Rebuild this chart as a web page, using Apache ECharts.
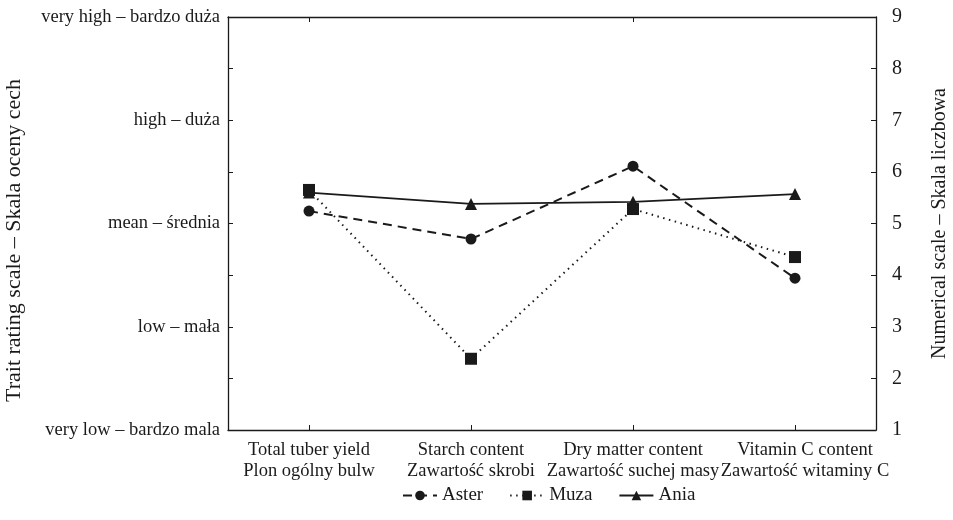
<!DOCTYPE html>
<html><head><meta charset="utf-8">
<script src="https://cdn.jsdelivr.net/npm/echarts@6/dist/echarts.min.js"></script>
<style>html,body{margin:0;padding:0;background:#fff}#c{width:953px;height:520px}</style>
</head><body><div id="c"></div>
<script>
var categories = ['Total tuber yield\nPlon ogólny bulw', 'Starch content\nZawartość skrobi', 'Dry matter content\nZawartość suchej masy', 'Vitamin C content\nZawartość witaminy C'];
var aster = [5.24, 4.70, 6.11, 3.94];
var muza = [5.65, 2.38, 5.28, 4.35];
var ania = [5.60, 5.38, 5.42, 5.57];
var ratingLabels = {1: 'very low – bardzo mala', 3: 'low – mała', 5: 'mean – średnia', 7: 'high – duża', 9: 'very high – bardzo duża'};
var leftName = 'Trait rating scale – Skala oceny cech';
var rightName = 'Numerical scale – Skala liczbowa';

var F = 'Liberation Serif';
var C = '#1a1a1a';
var chart = echarts.init(document.getElementById('c'));
var axisLine = {show: true, lineStyle: {color: C, width: 1.3}};
var tick = {show: true, inside: true, length: 5, lineStyle: {color: C, width: 1}};
var catData = categories.map(function (c, i) {
  return i === categories.length - 1 ? {value: c, textStyle: {padding: [0, 0, 0, 20]}} : c;
});
chart.setOption({
  animation: false,
  grid: {left: 228, right: 77, top: 17, bottom: 90, outerBoundsMode: 'none', containLabel: false},
  legend: {
    left: 397, top: 481, itemWidth: 34, itemHeight: 12, itemGap: 26,
    textStyle: {fontFamily: F, fontSize: 19, color: C},
    data: ['Aster', 'Muza', 'Ania']
  },
  xAxis: [{
    type: 'category', data: catData, position: 'bottom',
    axisLine: axisLine, axisTick: Object.assign({alignWithLabel: true}, tick),
    axisLabel: {fontFamily: F, fontSize: 18.5, color: C, lineHeight: 21, margin: 10, interval: 0}
  }, {
    type: 'category', data: categories, position: 'top',
    axisLine: axisLine, axisTick: Object.assign({alignWithLabel: true}, tick),
    axisLabel: {show: false}
  }],
  yAxis: [{
    type: 'value', min: 1, max: 9, interval: 1, position: 'left',
    splitLine: {show: false}, axisLine: axisLine, axisTick: tick,
    axisLabel: {fontFamily: F, fontSize: 18.5, color: C, margin: 8,
      formatter: function (v) { return ratingLabels[v] || ''; }},
    name: leftName, nameLocation: 'middle', nameGap: 203, nameRotate: 90,
    nameTextStyle: {fontFamily: F, fontSize: 22, color: C, padding: [0, 34, 0, 0]}
  }, {
    type: 'value', min: 1, max: 9, interval: 1, position: 'right',
    splitLine: {show: false}, axisLine: axisLine, axisTick: tick,
    axisLabel: {fontFamily: F, fontSize: 20, color: C, margin: 16},
    name: rightName, nameLocation: 'middle', nameGap: 54, nameRotate: 90,
    nameTextStyle: {fontFamily: F, fontSize: 20, color: C}
  }],
  series: [{
    name: 'Aster', type: 'line', data: aster, symbol: 'circle', symbolSize: 11,
    itemStyle: {color: C}, lineStyle: {color: C, width: 2, type: [9, 6]}
  }, {
    name: 'Muza', type: 'line', data: muza, symbol: 'rect', symbolSize: 12,
    itemStyle: {color: C}, lineStyle: {color: C, width: 2, type: [1.5, 4.5]}
  }, {
    name: 'Ania', type: 'line', data: ania, symbol: 'triangle', symbolSize: 12,
    itemStyle: {color: C}, lineStyle: {color: C, width: 1.8, type: 'solid'}
  }]
});
</script></body></html>
